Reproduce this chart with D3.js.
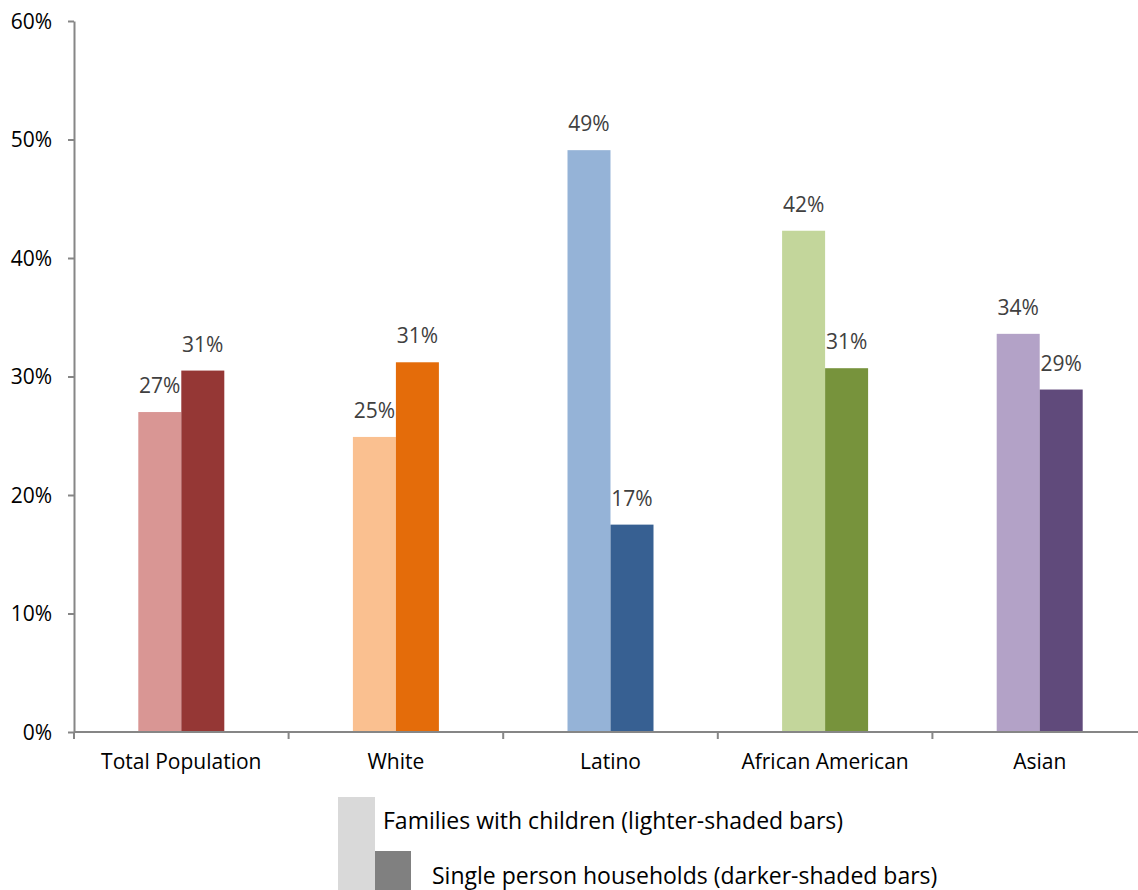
<!DOCTYPE html>
<html><head><meta charset="utf-8">
<script src="https://cdn.jsdelivr.net/npm/d3@7"></script>
<style>body{margin:0;background:#fff;} svg{display:block;font-family:"Open Sans",sans-serif;}</style>
</head><body>
<svg id="c" width="1138" height="890"></svg>
<script>
const categories = ["Total Population","White","Latino","African American","Asian"];
const familiesWithChildren = [27.0, 24.9, 49.1, 42.3, 33.6];
const singlePerson = [30.5, 31.2, 17.5, 30.7, 28.9];
const familiesLabels = ["27%","25%","49%","42%","34%"];
const singleLabels = ["31%","31%","17%","31%","29%"];
const lightColors = ["#d99694","#fac090","#95b3d7","#c3d69b","#b3a2c7"];
const darkColors = ["#953735","#e46c0a","#376092","#77933c","#604a7b"];
const yTicks = [0,10,20,30,40,50,60];
const legendLabels = ["Families with children (lighter-shaded bars)","Single person households (darker-shaded bars)"];
const legendColors = ["#d9d9d9","#808080"];

const svg = d3.select("#c");
const x0 = 74, bandW = 214.6;
const x = d3.scaleBand().domain(categories).range([x0, x0 + bandW*categories.length]).paddingInner(0).paddingOuter(0);
const y = d3.scaleLinear().domain([0,60]).range([732,21]);
const barW = 43;

// bars
const g = svg.append("g");
categories.forEach((c,i)=>{
  const cx = x(c) + x.bandwidth()/2;
  g.append("rect").attr("x", cx - barW).attr("width", barW)
    .attr("y", y(familiesWithChildren[i])).attr("height", y(0)-y(familiesWithChildren[i]))
    .attr("fill", lightColors[i]);
  g.append("rect").attr("x", cx).attr("width", barW)
    .attr("y", y(singlePerson[i])).attr("height", y(0)-y(singlePerson[i]))
    .attr("fill", darkColors[i]);
  g.append("text").attr("x", cx - barW/2).attr("y", y(familiesWithChildren[i]) - 19)
    .attr("text-anchor","middle").attr("font-size",21).attr("fill","#404040").text(familiesLabels[i]);
  g.append("text").attr("x", cx + barW/2).attr("y", y(singlePerson[i]) - 19)
    .attr("text-anchor","middle").attr("font-size",21).attr("fill","#404040").text(singleLabels[i]);
});

// y axis
const ya = svg.append("g").attr("transform",`translate(${x0},0)`)
  .call(d3.axisLeft(y).tickValues(yTicks).tickFormat(d=>d+"%").tickSize(6).tickSizeOuter(0));
ya.select(".domain").attr("stroke","#868686").attr("stroke-width",2);
ya.selectAll(".tick line").attr("stroke","#868686").attr("stroke-width",2);
ya.selectAll(".tick text").attr("font-size",21).attr("fill","#000").attr("font-family","Open Sans").attr("x",-22).attr("dy","0.35em");

// x axis
const xa = svg.append("g").attr("transform",`translate(0,${y(0)})`);
xa.append("line").attr("x1",x0).attr("x2",x0+bandW*categories.length).attr("stroke","#868686").attr("stroke-width",2);
d3.range(categories.length+1).forEach(k=>{
  xa.append("line").attr("x1",x0+bandW*k).attr("x2",x0+bandW*k).attr("y1",0).attr("y2",7).attr("stroke","#868686").attr("stroke-width",2);
});
categories.forEach(c=>{
  xa.append("text").attr("x", x(c)+x.bandwidth()/2).attr("y", 37).attr("text-anchor","middle")
    .attr("font-size",21).attr("fill","#000").text(c);
});

// legend
const lg = svg.append("g");
lg.append("rect").attr("x",338).attr("y",797).attr("width",37).attr("height",93).attr("fill",legendColors[0]);
lg.append("rect").attr("x",375).attr("y",851).attr("width",36).attr("height",39).attr("fill",legendColors[1]);
lg.append("text").attr("x",383).attr("y",829).attr("font-size",23).attr("fill","#000").text(legendLabels[0]);
lg.append("text").attr("x",432).attr("y",884).attr("font-size",23).attr("fill","#000").text(legendLabels[1]);
</script>
</body></html>
